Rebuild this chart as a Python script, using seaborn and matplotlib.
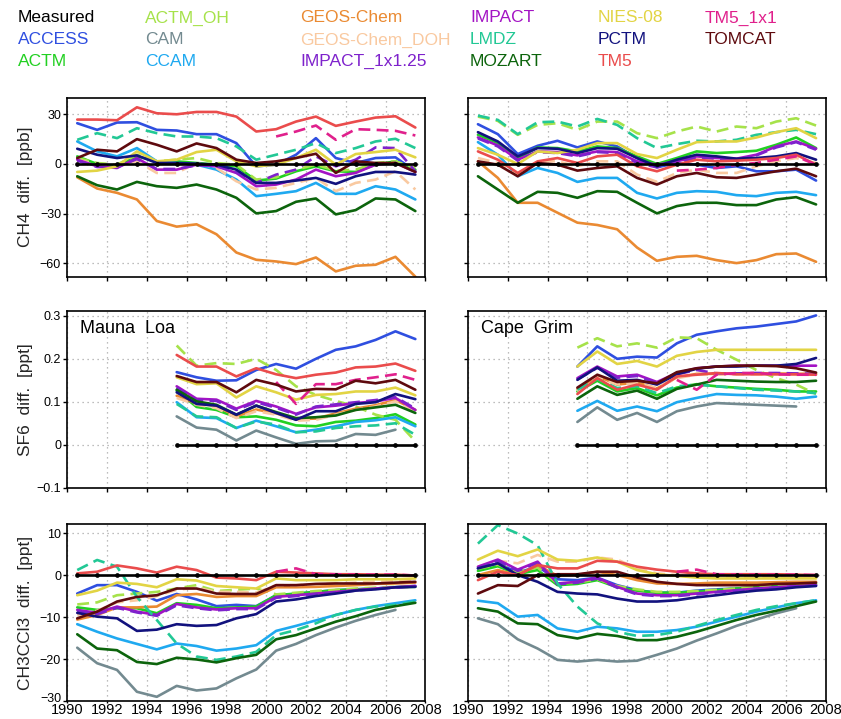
import matplotlib
matplotlib.use("Agg")
import matplotlib.pyplot as plt
import matplotlib.transforms as mtransforms
import pandas as pd
import seaborn as sns

# ---------------------------------------------------------------- axes data
YEARS = [1990.5, 1991.5, 1992.5, 1993.5, 1994.5, 1995.5, 1996.5, 1997.5, 1998.5,
         1999.5, 2000.5, 2001.5, 2002.5, 2003.5, 2004.5, 2005.5, 2006.5, 2007.5]
SF6_YEARS = [1995.5, 1996.5, 1997.5, 1998.5, 1999.5, 2000.5, 2001.5, 2002.5,
             2003.5, 2004.5, 2005.5, 2006.5, 2007.5]

MODELS = ["ACCESS", "ACTM", "ACTM_OH", "CAM", "CCAM", "GEOS-Chem",
          "GEOS-Chem_DOH", "IMPACT", "IMPACT_1x1.25", "LMDZ", "MOZART",
          "NIES-08", "PCTM", "TM5", "TM5_1x1", "TOMCAT"]

# key layout, column by column
KEY_COLUMNS = [["Measured", "ACCESS", "ACTM"],
               ["ACTM_OH", "CAM", "CCAM"],
               ["GEOS-Chem", "GEOS-Chem_DOH", "IMPACT_1x1.25"],
               ["IMPACT", "LMDZ", "MOZART"],
               ["NIES-08", "PCTM", "TM5"],
               ["TM5_1x1", "TOMCAT"]]

COLORS = {
    "Measured": "#000000", "ACCESS": "#2f4fe0", "ACTM": "#22d022",
    "ACTM_OH": "#a6e24a", "CAM": "#738a90", "CCAM": "#1fa9f0",
    "GEOS-Chem": "#ea8a32", "GEOS-Chem_DOH": "#f9c9a0", "IMPACT": "#a313c4",
    "IMPACT_1x1.25": "#7e22cc", "LMDZ": "#22c895", "MOZART": "#0c640c",
    "NIES-08": "#e2d444", "PCTM": "#12127e", "TM5": "#ea4c4c",
    "TM5_1x1": "#e0208c", "TOMCAT": "#5e0a0e",
}
DASHED = {"ACTM_OH", "GEOS-Chem_DOH", "IMPACT_1x1.25", "LMDZ", "TM5_1x1"}

# ------------------------------------------------ CH4 difference [ppb]
ch4_mauna_loa = {
    "ACCESS": [24.6, 20.6, 25, 25.2, 20.6, 20.2, 18, 18, 12.6, -1.4, -0.4, 5.6, 15.6, 3.6, 0.6, 3.6, 4, -4.4],
    "ACTM": [4.6, 0, -1.4, 4.6, 1.6, 1.6, 0.6, -0.4, -1.4, -10, -8.8, -4.4, -1.4, -4.4, -4.8, -0.4, 1.6, -3.4],
    "ACTM_OH": [3.6, 0.6, -0.4, 5.6, 1.6, 2.6, 3.6, 0.6, -0.4, -9.4, -8, -3.4, -0.4, -4, -3.4, 0.6, 1.6, -2.4],
    "CCAM": [13.6, 7.6, 4.6, 9.6, 1.6, 0.6, -0.4, -3.4, -9.4, -19.4, -18, -16.4, -11.4, -18, -18, -13.4, -15.4, -21.4],
    "GEOS-Chem": [-8, -14.8, -17.4, -21.4, -34.4, -37.8, -36.4, -42.4, -53.4, -57.8, -58.8, -60.4, -56.4, -64.8, -61.4, -60.8, -56, -68],
    "GEOS-Chem_DOH": [2.6, -0.4, -0.4, 1.6, -5.4, -5.4, 0.6, -2.4, -10.4, -15.4, -14.4, -11.4, -8.4, -16.4, -11.4, -9.4, -4.4, -15.4],
    "IMPACT": [2.6, -1.4, -2.4, 3.6, -3.4, -3.4, -0.4, -1.4, -5.4, -13.4, -12.4, -9.4, -3.4, -7.4, -5.4, -0.4, 0.6, -4.8],
    "IMPACT_1x1.25": [2.0, -1.8, -2.0, 3.0, -3.0, -3.0, -0.8, -1.0, -5.0, -11.4, -6.4, -3.4, 4.6, -1.4, 2.6, 10, 9.6, -4.4],
    "LMDZ": [14.6, 18.6, 15.6, 21.6, 18.6, 16.6, 16.6, 15.6, 10.6, 2.6, 5.6, 8.6, 12.6, 6.6, 9.6, 13.6, 15.2, 9.6],
    "MOZART": [-7.4, -12.8, -15.4, -10.8, -13.4, -14.4, -12.4, -15.4, -20.4, -29.8, -28.4, -22.8, -20.8, -30.4, -27.8, -20.8, -21.4, -28.4],
    "NIES-08": [-4.8, -4, -1.4, 7.6, 1.6, 2.6, 7.2, 8.6, 1.6, -1.4, -0.4, 3.6, 8.6, -0.4, 6, 7.2, 8.6, 4],
    "PCTM": [9.2, 5.6, 3.6, 5.2, 0.6, 0.6, 0.2, -0.4, -3.4, -11.4, -11.4, -10, -8.4, -12, -7.4, -4.8, -4.8, -6.4],
    "TM5": [26.8, 26.8, 26.4, 34.2, 30.6, 30, 31.4, 31.4, 28.6, 19.6, 21, 25.6, 28.6, 23, 25.6, 28, 28.8, 22],
    "TM5_1x1": [None] * 10 + [16.6, 19.6, 23.2, 14.6, 21, 20.6, 20, 17.2],
    "TOMCAT": [3.6, 8.6, 7.6, 15, 11.6, 7.6, 12.4, 9.6, 2.6, 0.6, 1.6, 3.6, 6.2, -5.4, 1.6, 0.6, 0.6, -4.8],
}
ch4_cape_grim = {
    "ACCESS": [24, 18, 6, 11, 14, 10, 13.6, 10.6, 3.6, -2, 0.6, -0.4, -2.4, -1.4, -4.4, -4.4, -3.4, -10],
    "ACTM": [17.6, 12.6, 3.2, 10, 9.6, 7.6, 10.6, 9.6, 4.6, 0, 3.6, 7.6, 6.6, 7.2, 8, 11.6, 16, 9.6],
    "ACTM_OH": [28.6, 26, 17.6, 23.6, 24.6, 20.6, 25.6, 25.6, 18.6, 15.6, 19.6, 22.6, 19.6, 22.6, 21.6, 25.6, 27.6, 23.2],
    "CCAM": [13.2, 5.6, -7.4, -2.4, -5.4, -10.8, -8.4, -8.4, -17.4, -20.8, -17.4, -16.4, -16.8, -18.8, -19.4, -17.4, -16.8, -18.8],
    "GEOS-Chem": [1.6, -8.4, -23.4, -23.4, -29.4, -35.4, -36.8, -39.4, -50.4, -58.4, -56, -55.4, -58, -59.8, -58, -54.4, -54, -59],
    "GEOS-Chem_DOH": [3.6, 0.6, -6.4, 1.6, 1.6, -1.4, 1.6, 1.6, -6.4, -10.8, -5.4, -3.4, -5.4, -5.4, -1.4, 1.6, 3.6, 0.6],
    "IMPACT": [16, 11.2, 2.6, 7.6, 7.2, 5.2, 7.6, 7.2, 1.6, -0.4, 1.6, 4.6, 3.6, 3.2, 5.6, 10.6, 13.6, 9.2],
    "IMPACT_1x1.25": [15.4, 10.6, 2.0, 7.2, 6.6, 4.6, 7.2, 6.6, 0.6, -2.0, 0.6, 4.0, 3.2, 2.6, 5.2, 10.0, 13.2, 8.6],
    "LMDZ": [29.2, 26.6, 18, 25.2, 25.6, 22.6, 27.2, 23.6, 15.6, 9.6, 12, 14, 13.6, 14.6, 17.6, 19.2, 20.6, 18],
    "MOZART": [-7.4, -15.4, -23.4, -16.8, -17.4, -20.4, -16.4, -16.8, -23.4, -29.8, -25.4, -23.4, -23.4, -24.8, -24.8, -21.4, -20, -24.4],
    "NIES-08": [9.6, 5.6, 0, 7.6, 6.6, 8.6, 12.6, 12.6, 6, 3.6, 8.6, 13.2, 13.6, 13.6, 16, 19.2, 21.6, 15.6],
    "PCTM": [19.2, 13.6, 4.6, 9.6, 9.2, 6.6, 9.6, 9.2, 3.6, -1.4, 2.6, 5.6, 4.6, 3.2, 3.6, 4.6, 6.6, 2.6],
    "TM5": [7.6, 2.6, -5.4, 1.6, 3.6, 0.6, 4.6, 5.6, -1.4, -4.4, -0.4, 2.6, 1.6, 2, 2.6, 3.6, 5.6, -0.4],
    "TM5_1x1": [None] * 10 + [-4, -3.4, -2.4, -0.4, 0.6, 2.6, 4.6, -0.4],
    "TOMCAT": [1.6, -0.4, -7.4, 0.6, -0.4, -4, -2.4, -1.4, -8.4, -12.4, -7.4, -5.4, -8, -8.4, -6.4, -4.4, -2.8, -7.4],
}

# ------------------------------------------------ SF6 difference [ppt]
sf6_mauna_loa = {
    "ACCESS": [0.169, 0.157, 0.149, 0.150, 0.174, 0.188, 0.177, 0.200, 0.221, 0.229, 0.244, 0.264, 0.246],
    "ACTM": [0.126, 0.088, 0.081, 0.064, 0.066, 0.058, 0.045, 0.043, 0.053, 0.056, 0.062, 0.071, 0.047],
    "ACTM_OH": [0.231, 0.184, 0.190, 0.188, 0.200, 0.174, 0.136, 0.116, 0.102, 0.089, 0.070, 0.058, 0.008],
    "CAM": [0.066, 0.040, 0.035, 0.010, 0.033, 0.017, 0.002, 0.008, 0.009, 0.025, 0.023, 0.035, None],
    "CCAM": [0.099, 0.064, 0.062, 0.039, 0.056, 0.043, 0.029, 0.035, 0.043, 0.053, 0.057, 0.064, 0.043],
    "GEOS-Chem": [0.114, 0.096, 0.090, 0.066, 0.082, 0.073, 0.059, 0.061, 0.073, 0.084, 0.092, 0.104, 0.081],
    "GEOS-Chem_DOH": [0.109, 0.093, 0.085, 0.062, 0.078, 0.070, 0.056, 0.058, 0.070, 0.081, 0.089, 0.101, 0.078],
    "IMPACT": [0.136, 0.107, 0.105, 0.084, 0.102, 0.089, 0.072, 0.087, 0.091, 0.097, 0.101, 0.109, 0.081],
    "IMPACT_1x1.25": [0.133, 0.104, 0.102, 0.081, 0.099, 0.086, 0.070, 0.089, 0.094, 0.099, 0.104, 0.111, 0.084],
    "LMDZ": [0.095, 0.066, 0.064, 0.039, 0.054, 0.047, 0.029, 0.031, 0.039, 0.043, 0.045, 0.050, 0.023],
    "MOZART": [0.128, 0.101, 0.093, 0.070, 0.091, 0.076, 0.062, 0.064, 0.068, 0.081, 0.087, 0.093, 0.074],
    "NIES-08": [0.157, 0.141, 0.143, 0.110, 0.136, 0.122, 0.105, 0.116, 0.118, 0.124, 0.124, 0.133, 0.115],
    "PCTM": [0.122, 0.095, 0.091, 0.070, 0.091, 0.074, 0.058, 0.078, 0.078, 0.095, 0.099, 0.118, 0.106],
    "TM5": [0.209, 0.182, 0.182, 0.159, 0.178, 0.164, 0.155, 0.163, 0.168, 0.180, 0.182, 0.189, 0.172],
    "TM5_1x1": [None] * 5 + [0.146, 0.095, 0.141, 0.141, 0.151, 0.157, 0.164, 0.151],
    "TOMCAT": [0.160, 0.146, 0.146, 0.122, 0.151, 0.140, 0.124, 0.130, 0.129, 0.149, 0.143, 0.151, 0.128],
}
sf6_cape_grim = {
    "ACCESS": [0.182, 0.229, 0.200, 0.205, 0.203, 0.236, 0.256, 0.264, 0.271, 0.275, 0.281, 0.287, 0.301],
    "ACTM": [0.124, 0.149, 0.124, 0.132, 0.115, 0.133, 0.141, 0.136, 0.133, 0.130, 0.128, 0.124, 0.124],
    "ACTM_OH": [0.226, 0.248, 0.229, 0.236, 0.226, 0.250, 0.248, 0.221, 0.198, 0.174, 0.155, 0.140, 0.118],
    "CAM": [0.053, 0.087, 0.058, 0.074, 0.053, 0.078, 0.089, 0.097, 0.095, 0.093, 0.091, 0.089, None],
    "CCAM": [0.079, 0.102, 0.079, 0.089, 0.078, 0.099, 0.109, 0.118, 0.116, 0.115, 0.112, 0.107, 0.112],
    "GEOS-Chem": [0.130, 0.160, 0.140, 0.145, 0.131, 0.157, 0.165, 0.165, 0.166, 0.166, 0.166, 0.165, 0.166],
    "GEOS-Chem_DOH": [0.124, 0.157, 0.141, 0.143, 0.132, 0.155, 0.163, 0.163, 0.164, 0.164, 0.164, 0.163, 0.163],
    "IMPACT": [0.155, 0.182, 0.159, 0.163, 0.146, 0.167, 0.178, 0.182, 0.184, 0.184, 0.184, 0.184, 0.184],
    "IMPACT_1x1.25": [0.152, 0.179, 0.156, 0.160, 0.144, 0.164, 0.174, 0.166, 0.166, 0.167, 0.167, 0.166, 0.165],
    "LMDZ": [0.128, 0.153, 0.132, 0.136, 0.120, 0.136, 0.140, 0.136, 0.132, 0.128, 0.126, 0.124, 0.120],
    "MOZART": [0.107, 0.136, 0.116, 0.126, 0.107, 0.130, 0.140, 0.151, 0.149, 0.147, 0.146, 0.146, 0.149],
    "NIES-08": [0.182, 0.217, 0.188, 0.195, 0.182, 0.207, 0.216, 0.221, 0.221, 0.221, 0.221, 0.221, 0.221],
    "PCTM": [0.151, 0.180, 0.149, 0.151, 0.140, 0.164, 0.177, 0.182, 0.182, 0.184, 0.184, 0.188, 0.202],
    "TM5": [0.118, 0.155, 0.128, 0.140, 0.128, 0.159, 0.163, 0.167, 0.164, 0.164, 0.164, 0.164, 0.163],
    "TM5_1x1": [None] * 5 + [0.151, 0.128, 0.163, 0.167, 0.167, 0.164, 0.163, 0.163],
    "TOMCAT": [0.133, 0.163, 0.146, 0.149, 0.143, 0.169, 0.178, 0.182, 0.184, 0.184, 0.183, 0.178, 0.168],
}

# ------------------------------------------------ CH3CCl3 difference [ppt]
mcf_mauna_loa = {
    "ACCESS": [-4.4, -2.4, -2.4, -4, -6.1, -4.5, -5.8, -7.4, -7.1, -7.4, -4.8, -4.5, -4, -3.6, -3.4, -3.2, -2.9, -2.6],
    "ACTM": [-7.7, -8.3, -7.9, -7.9, -9.1, -6.7, -7.1, -7.9, -7.7, -7.5, -4.8, -4.4, -4, -3.6, -3.4, -3.2, -2.9, -2.8],
    "ACTM_OH": [-7.0, -6.5, -4.8, -4.4, -4.0, -3.2, -2.4, -3.8, -3.5, -3.2, -4.6, -4.2, -3.8, -3.5, -3.2, -3.0, -2.8, -2.6],
    "CAM": [-17.3, -21, -22.6, -27.8, -29, -26.4, -27.5, -27, -24.6, -22.5, -18, -16.4, -14.3, -12.5, -10.9, -9.5, -8.3, None],
    "CCAM": [-11.7, -13.5, -15.1, -16.4, -17.7, -16.3, -16.9, -18, -17.5, -16.7, -13.3, -12.1, -10.8, -9.5, -8.3, -7.4, -6.7, -6.0],
    "GEOS-Chem": [-10.6, -9.5, -7.7, -7.7, -7.5, -4.8, -4.5, -5.2, -5.0, -5.0, -2.9, -2.9, -2.8, -2.6, -2.4, -2.1, -2.0, -1.8],
    "GEOS-Chem_DOH": [-9.5, -8.5, -6.5, -6.0, -5.0, -3.5, -3.0, -4.0, -4.0, -4.2, -2.4, -2.4, -2.2, -2.0, -1.8, -1.6, -1.5, -1.3],
    "IMPACT": [-8.3, -9.0, -7.5, -8.7, -9.5, -6.9, -7.7, -8.2, -7.9, -7.9, -5.2, -4.8, -4.4, -4, -3.6, -3.2, -2.9, -2.6],
    "IMPACT_1x1.25": [-8.6, -9.3, -7.8, -8.9, -9.7, -7.2, -7.9, -8.4, -8.1, -8.1, -5.4, -5.0, -4.6, -4.1, -3.7, -3.3, -3.0, -2.7],
    "LMDZ": [1.2, 3.6, 2, -5.2, -10.7, -16.3, -19.4, -20.2, -19.4, -18.3, -14.3, -13.1, -11.5, -9.5, -8.3, -7.5, -7.1, -6.3],
    "MOZART": [-14.1, -17.5, -17.9, -20.7, -21.2, -19.7, -20.1, -20.8, -19.8, -19.0, -15.3, -14.3, -12.7, -11.1, -9.8, -8.3, -7.4, -6.6],
    "NIES-08": [-4.8, -3.7, -1.8, -2.1, -2.9, -1.0, -1.3, -2.6, -2.9, -3.2, -0.8, -1.2, -1.2, -1.2, -1.0, -1.0, -1.0, -0.8],
    "PCTM": [-9, -9.9, -10.3, -13.3, -13, -11.7, -12.1, -11.9, -10.3, -9.3, -6.3, -5.8, -5, -4.4, -3.7, -3.4, -2.9, -2.8],
    "TM5": [0.4, 0.8, 2.3, 1.6, 0.6, 2, 1.2, -0.6, -0.8, -1.2, 0.8, 0.6, 0.4, 0.2, 0.2, 0.1, 0.1, -0.1],
    "TM5_1x1": [None] * 10 + [0.8, 1.6, 0.2, 0.2, 0.1, 0.1, 0.1, -0.1],
    "TOMCAT": [-10.3, -8.7, -6.3, -5.2, -4.8, -3.2, -3.2, -4.4, -4.5, -4.5, -2.4, -2.4, -2.1, -2.0, -2.0, -2.0, -1.8, -1.6],
}
mcf_cape_grim = {
    "ACCESS": [1.6, 2.8, 0.6, 2, -1, -1.2, -0.6, -2.4, -3.6, -4.2, -4.2, -3.7, -3.4, -3.2, -2.9, -2.8, -2.6, -2.4],
    "ACTM": [1, 2.1, 0.2, 1.2, -2.4, -2.1, -1.2, -2.9, -3.7, -4.2, -4.2, -4, -3.6, -3.2, -2.9, -2.6, -2.4, -2.1],
    "ACTM_OH": [1.5, 2.5, 0.8, 1.8, -2, -1.8, -1, -2.6, -3.4, -4.0, -4.0, -3.8, -3.5, -3.2, -2.9, -2.6, -2.3, -2.0],
    "CAM": [-10.3, -11.7, -15.3, -17.5, -20.2, -20.6, -20.2, -20.6, -20.4, -19, -17.5, -15.6, -13.9, -12.1, -10.6, -9.1, -7.9, None],
    "CCAM": [-6.1, -6.7, -9.9, -9.5, -12.7, -13.5, -12.3, -12.7, -13.5, -13.5, -13.1, -12.3, -11.1, -9.9, -8.7, -7.7, -6.7, -6.0],
    "GEOS-Chem": [0, 1.2, 0, 2.4, -0.2, 0, 0.8, 0, -1.2, -2, -2.1, -2, -1.8, -1.8, -1.8, -1.7, -1.6, -1.6],
    "GEOS-Chem_DOH": [2.0, 3.4, 2.8, 4.8, 3.2, 3.2, 4.2, 3.7, 1.6, 0.4, 0, -0.2, -0.3, -0.4, -0.4, -0.4, -0.4, -0.4],
    "IMPACT": [2, 3.7, 1.3, 3.2, -2, -1.6, -0.6, -2.8, -4.4, -4.8, -4.8, -4.4, -4, -3.6, -3.2, -2.9, -2.6, -2.4],
    "IMPACT_1x1.25": [1.7, 3.4, 1.0, 2.9, -2.2, -1.8, -0.8, -3.0, -4.6, -5.0, -5.0, -4.6, -4.1, -3.7, -3.3, -3.0, -2.7, -2.5],
    "LMDZ": [7.5, 11.9, 9.9, 7.1, -2, -7.5, -11.5, -13.5, -14.5, -14.3, -13.5, -12.1, -10.7, -9.5, -8.3, -7.4, -6.7, -6.0],
    "MOZART": [-7.9, -8.7, -11.5, -11.7, -14.3, -15.1, -14, -14.5, -15.5, -15.5, -14.7, -13.5, -12.1, -10.7, -9.5, -8.5, -7.4, -6.3],
    "NIES-08": [3.7, 5.8, 4.5, 6.1, 3.7, 3.4, 4.2, 3.2, 1.2, 0.2, -0.2, -0.6, -0.8, -0.8, -0.8, -0.8, -0.8, -0.8],
    "PCTM": [1.6, 2.8, 0, -1.6, -4, -4.4, -4.6, -5.6, -6.3, -6.3, -6, -5.3, -4.8, -4.2, -3.7, -3.4, -2.9, -2.6],
    "TM5": [-1.2, 0.8, 0, 2.4, 1.6, 1.6, 3.4, 3.2, 2, 1.3, 0.8, 0.4, 0.2, 0.2, 0.2, 0.2, 0.1, 0],
    "TM5_1x1": [None] * 10 + [0.8, 1.3, 0.2, 0.1, 0.1, 0.1, 0.1, 0],
    "TOMCAT": [-4.4, -2.4, -2.6, 0, 0.2, 0.2, 0.8, 0.8, -0.6, -1.6, -2.1, -2.4, -2.4, -2.4, -2.4, -2.1, -2, -1.8],
}

# observations are the reference, so their difference is zero everywhere
MEASURED_FULL = [0.0] * len(YEARS)
MEASURED_SF6 = [0.0] * len(SF6_YEARS)

Y_LABELS = ["CH4  diff.  [ppb]", "SF6  diff.  [ppt]", "CH3CCl3  diff.  [ppt]"]
Y_LIMITS = [(-68, 40), (-0.1, 0.312), (-30, 12.1)]
Y_TICKS = [[-60, -30, 0, 30], [-0.1, 0, 0.1, 0.2, 0.3], [-30, -20, -10, 0, 10]]
Y_TICKLABELS = [["\u221260", "\u221230", "0", "30"],
                ["\u22120.1", "0", "0.1", "0.2", "0.3"],
                ["\u221230", "\u221220", "\u221210", "0", "10"]]
X_TICKS = [1990, 1992, 1994, 1996, 1998, 2000, 2002, 2004, 2006, 2008]
SITE_NAMES = ["Mauna  Loa", "Cape  Grim"]

# ---------------------------------------------------------------- figure
sns.set_style("ticks")
FONT = ["Liberation Sans", "DejaVu Sans"]
plt.rcParams["font.family"] = FONT

W, H = 841, 719
fig = plt.figure(figsize=(W / 100, H / 100), dpi=100)

col_left = [67.3, 468.0]
col_width = 358.0
row_top = [97.7, 310.7, 524.3]
row_bottom = [276.7, 487.7, 701.0]

panels = [[ch4_mauna_loa, ch4_cape_grim],
          [sf6_mauna_loa, sf6_cape_grim],
          [mcf_mauna_loa, mcf_cape_grim]]
panel_years = [YEARS, SF6_YEARS, YEARS]
measured = [MEASURED_FULL, MEASURED_SF6, MEASURED_FULL]

dash_map = {m: ((4.5, 2.4) if m in DASHED else "") for m in MODELS}


def to_long(panel, years):
    rows = []
    for model in MODELS:
        if model not in panel:
            continue
        for yr, val in zip(years, panel[model]):
            if val is not None:
                rows.append((model, yr, val))
    return pd.DataFrame(rows, columns=["model", "year", "diff"])


for r in range(3):
    for c in range(2):
        rect = [col_left[c] / W, 1 - row_bottom[r] / H,
                col_width / W, (row_bottom[r] - row_top[r]) / H]
        ax = fig.add_axes(rect)
        df = to_long(panels[r][c], panel_years[r])
        present = [m for m in MODELS if m in set(df["model"])]
        sns.lineplot(data=df, x="year", y="diff", hue="model", style="model",
                     hue_order=present, style_order=present,
                     palette=COLORS, dashes=dash_map, linewidth=1.9,
                     estimator=None, legend=False, ax=ax)
        sns.lineplot(x=panel_years[r], y=measured[r], color="black",
                     linewidth=1.9, marker="o", markersize=3.4,
                     markeredgewidth=0, ax=ax)

        ax.set_xlim(1990, 2008)
        ax.set_ylim(*Y_LIMITS[r])
        ax.set_xticks(X_TICKS)
        ax.set_yticks(Y_TICKS[r])
        ax.grid(True, linestyle=(0, (1, 3)), color="#a8a8a8", linewidth=0.9)
        ax.set_axisbelow(True)
        for sp in ax.spines.values():
            sp.set_color("black")
            sp.set_linewidth(1.2)
        ax.tick_params(axis="both", direction="out", length=3, width=1.0,
                       colors="black")
        ax.tick_params(axis="y", labelsize=9, pad=1.5)
        ax.set_xlabel("")
        ax.set_ylabel("")

        if r == 2:
            ax.tick_params(axis="x", labelsize=10.5, pad=0, length=1.5)
            ax.set_xticklabels([str(t) for t in X_TICKS])
        else:
            ax.set_xticklabels([])
        if c == 0:
            ax.set_yticklabels(Y_TICKLABELS[r])
            ax.set_ylabel(Y_LABELS[r], fontsize=12.5)
            ax.yaxis.set_label_coords(-0.095, 0.5)
            if r == 2:
                # lift the lowest value label clear of the year labels
                lowest = ax.get_yticklabels()[0]
                lowest.set_transform(lowest.get_transform() +
                                     mtransforms.ScaledTranslation(
                                         0, 4 / 100, fig.dpi_scale_trans))
        else:
            ax.set_yticklabels([])
        if r == 1:
            ax.text(0.035, 0.95, SITE_NAMES[c], transform=ax.transAxes,
                    ha="left", va="top", fontsize=13, color="black")

# colour-coded key along the top
key_x = [18, 145, 300, 470, 598, 705]
key_y = [18, 40, 61]
for col, names in enumerate(KEY_COLUMNS):
    for row, name in enumerate(names):
        fig.text(key_x[col] / W, 1 - key_y[row] / H, name,
                 color=COLORS[name], fontsize=12.5, ha="left", va="center")

fig.savefig("out.png", dpi=100)
